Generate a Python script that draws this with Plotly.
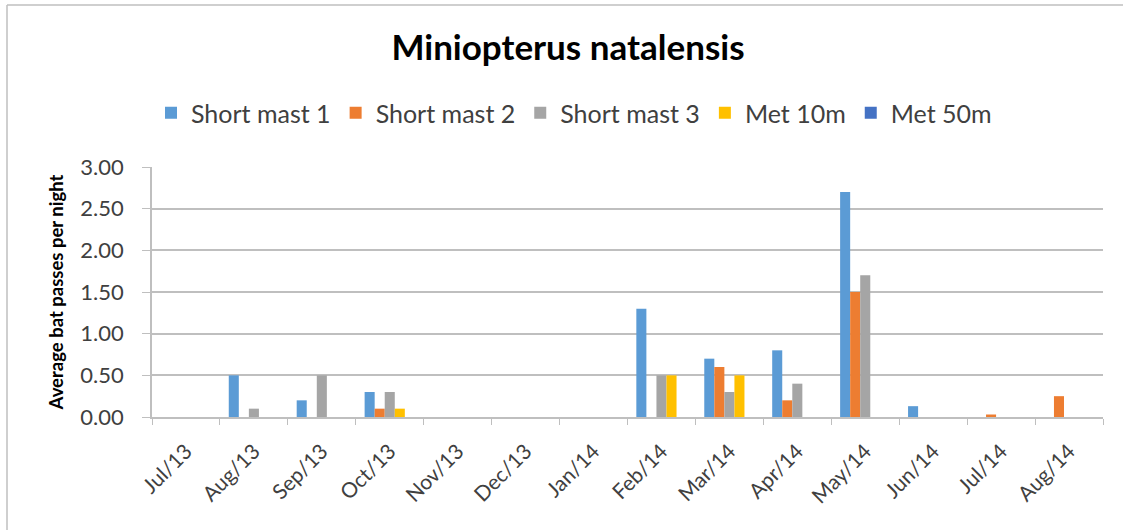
import plotly.graph_objects as go

months = ["Jul/13", "Aug/13", "Sep/13", "Oct/13", "Nov/13", "Dec/13", "Jan/14",
          "Feb/14", "Mar/14", "Apr/14", "May/14", "Jun/14", "Jul/14", "Aug/14"]
short_mast_1 = [0, 0.5, 0.2, 0.3, 0, 0, 0, 1.3, 0.7, 0.8, 2.7, 0.13, 0, 0]
short_mast_2 = [0, 0, 0, 0.1, 0, 0, 0, 0, 0.6, 0.2, 1.5, 0, 0.03, 0.25]
short_mast_3 = [0, 0.1, 0.5, 0.3, 0, 0, 0, 0.5, 0.3, 0.4, 1.7, 0, 0, 0]
met_10m = [0, 0, 0, 0.1, 0, 0, 0, 0.5, 0.5, 0, 0, 0, 0, 0]
met_50m = [0] * 14

series = [
    ("Short mast 1", short_mast_1, "#5B9BD5"),
    ("Short mast 2", short_mast_2, "#ED7D31"),
    ("Short mast 3", short_mast_3, "#A5A5A5"),
    ("Met 10m", met_10m, "#FFC000"),
    ("Met 50m", met_50m, "#4472C4"),
]

FONT = "Lato"
L, R, T, B = 152, 20, 167, 113
PW, PH = 1123 - L - R, 530 - T - B

fig = go.Figure()
for name, vals, col in series:
    fig.add_trace(go.Bar(x=months, y=vals, name=name, marker_color=col,
                         marker_line_width=0))

fig.update_layout(
    width=1123, height=530,
    barmode="group", bargap=0.26, bargroupgap=0,
    paper_bgcolor="white", plot_bgcolor="white",
    font=dict(family=FONT, color="#404040"),
    margin=dict(l=L, r=R, t=T, b=B, autoexpand=False),
    title=dict(text="<b>Miniopterus natalensis</b>", x=(568 - L) / PW, xref="paper",
               xanchor="center", y=1 - 48 / 530, yanchor="middle",
               font=dict(size=35, color="black", family=FONT)),
    legend=dict(orientation="h", x=(574 - L) / PW, xanchor="center",
                y=(530 - B - 113) / PH, yanchor="middle",
                font=dict(size=25, color="#404040"), itemwidth=30,
                traceorder="normal"),
    showlegend=True,
)
fig.update_xaxes(type="category", tickangle=-45, tickfont=dict(size=21, color="#404040"),
                 showline=True, linecolor="#BFBFBF", linewidth=1.5,
                 ticks="outside", tickson="boundaries", ticklen=6, tickcolor="#BFBFBF",
                 ticklabelstandoff=12, showgrid=False)
fig.update_yaxes(range=[0, 3], dtick=0.5, tickformat=".2f",
                 tickfont=dict(size=22, color="#404040"),
                 showgrid=True, gridcolor="#BFBFBF", gridwidth=1.5,
                 showline=True, linecolor="#BFBFBF", linewidth=1.5,
                 ticks="outside", ticklen=8, tickcolor="#BFBFBF",
                 ticklabelstandoff=14, zeroline=False,
                 title=dict(text="<b>Average bat passes per night</b>",
                            font=dict(size=18.5, color="black", family=FONT), standoff=12))

fig.add_shape(type="line", xref="paper", yref="paper",
              x0=(7 - L) / PW, x1=1.2, y0=(530 - 5 - B) / PH, y1=(530 - 5 - B) / PH,
              line=dict(color="#BFBFBF", width=1.5))
fig.add_shape(type="line", xref="paper", yref="paper",
              x0=(7 - L) / PW, x1=(7 - L) / PW, y0=-1, y1=(530 - 5 - B) / PH,
              line=dict(color="#BFBFBF", width=1.5))

fig.write_html("out.html", config={"displayModeBar": False},
               post_script="document.body.style.margin='0';")
